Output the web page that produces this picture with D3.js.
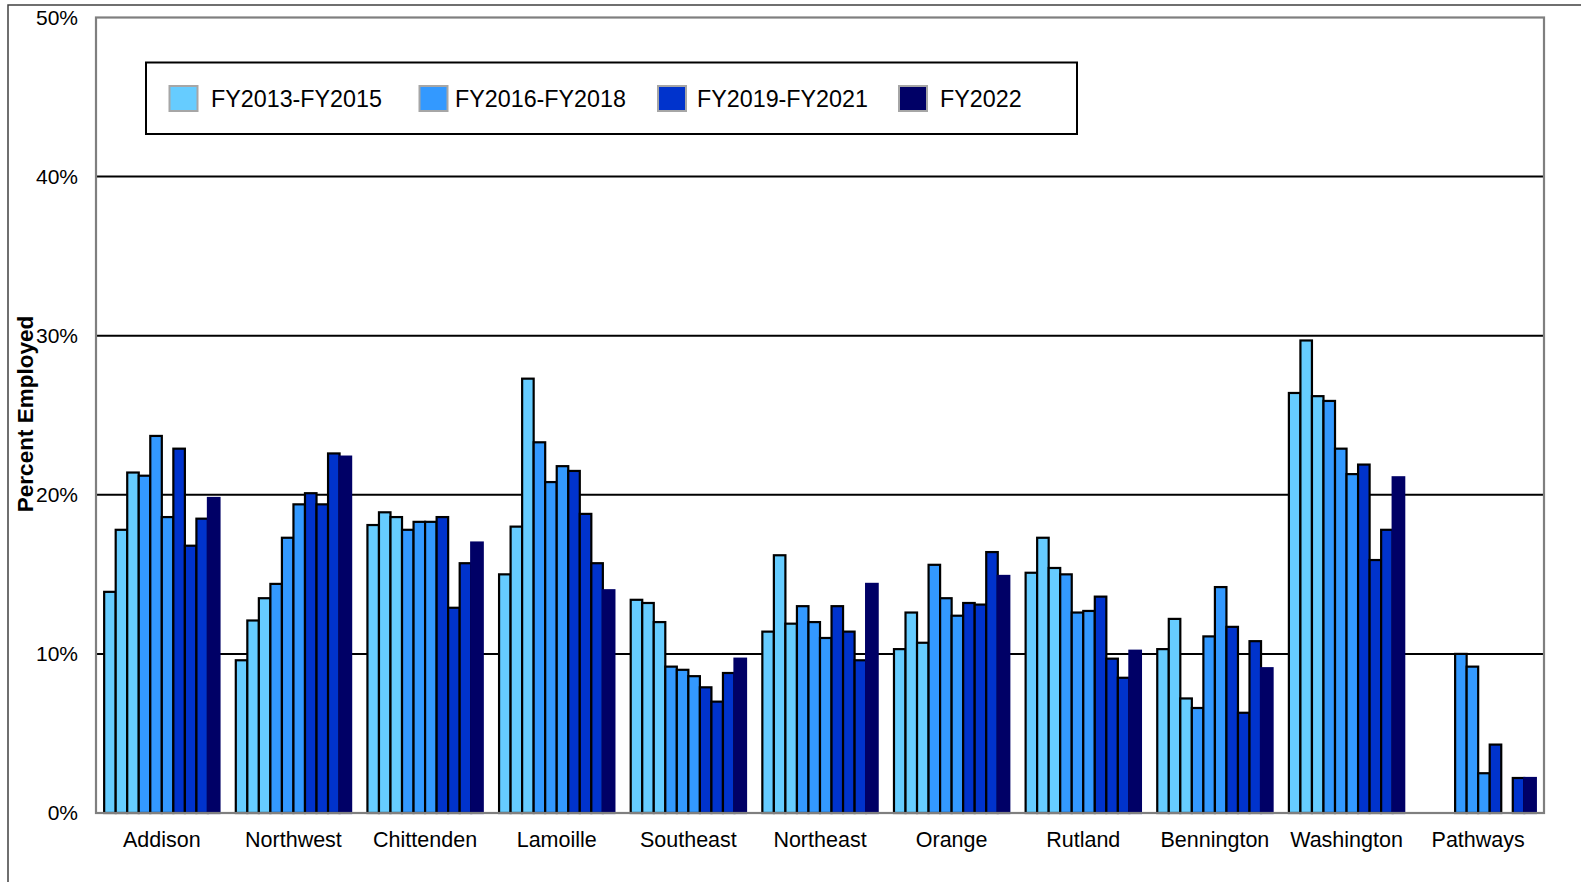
<!DOCTYPE html>
<html>
<head>
<meta charset="utf-8">
<script src="https://cdn.jsdelivr.net/npm/d3@7"></script>
<style>
  html, body { margin: 0; padding: 0; background: #fff; }
  svg { display: block; font-family: "Liberation Sans", Arial, sans-serif; }
</style>
</head>
<body>
<svg id="chart" width="1581" height="882"></svg>
<script>
// ---- Data ----
const categories = ["Addison", "Northwest", "Chittenden", "Lamoille", "Southeast", "Northeast", "Orange", "Rutland", "Bennington", "Washington", "Pathways"];
const years = ["FY2013", "FY2014", "FY2015", "FY2016", "FY2017", "FY2018", "FY2019", "FY2020", "FY2021", "FY2022"];
const legendLabels = ["FY2013-FY2015", "FY2016-FY2018", "FY2019-FY2021", "FY2022"];
const yearGroup = [0, 0, 0, 1, 1, 1, 2, 2, 2, 3];
const yTicks = [0, 10, 20, 30, 40, 50];

const fy2013 = [13.9, 9.6, 18.1, 15.0, 13.4, 11.4, 10.3, 15.1, 10.3, 26.4, null];
const fy2014 = [17.8, 12.1, 18.9, 18.0, 13.2, 16.2, 12.6, 17.3, 12.2, 29.7, null];
const fy2015 = [21.4, 13.5, 18.6, 27.3, 12.0, 11.9, 10.7, 15.4, 7.2, 26.2, null];
const fy2016 = [21.2, 14.4, 17.8, 23.3, 9.2, 13.0, 15.6, 15.0, 6.6, 25.9, 10.0];
const fy2017 = [23.7, 17.3, 18.3, 20.8, 9.0, 12.0, 13.5, 12.6, 11.1, 22.9, 9.2];
const fy2018 = [18.6, 19.4, 18.3, 21.8, 8.6, 11.0, 12.4, 12.7, 14.2, 21.3, 2.5];
const fy2019 = [22.9, 20.1, 18.6, 21.5, 7.9, 13.0, 13.2, 13.6, 11.7, 21.9, 4.3];
const fy2020 = [16.8, 19.4, 12.9, 18.8, 7.0, 11.4, 13.1, 9.7, 6.3, 15.9, null];
const fy2021 = [18.5, 22.6, 15.7, 15.7, 8.8, 9.6, 16.4, 8.5, 10.8, 17.8, 2.2];
const fy2022 = [19.8, 22.4, 17.0, 14.0, 9.7, 14.4, 14.9, 10.2, 9.1, 21.1, 2.2];
const series = [fy2013, fy2014, fy2015, fy2016, fy2017, fy2018, fy2019, fy2020, fy2021, fy2022];

// ---- Styles ----
const groupColors = ["#66CCFF", "#3399FF", "#0033CC", "#000066"];
const groupStroke = ["#000", "#000", "#000", "#000066"];

const svg = d3.select("#chart");
const plot = { left: 96, right: 1544, top: 17.5, bottom: 813 };

// Outer frame (partial, as in reference)
svg.append("path")
  .attr("d", "M8,882 L8,5 L1581,5")
  .attr("fill", "none").attr("stroke", "#404040").attr("stroke-width", 1.5);

const x0 = d3.scaleBand().domain(categories).range([plot.left, plot.right])
  .paddingInner(0.124).paddingOuter(0.062);
const x1 = d3.scaleBand().domain(years).range([0, x0.bandwidth()]).padding(0);
const y = d3.scaleLinear().domain([0, 50]).range([plot.bottom, plot.top]);

// Gridlines
svg.append("g").selectAll("line").data(yTicks.filter(t => t > 0 && t < 50)).join("line")
  .attr("x1", plot.left).attr("x2", plot.right)
  .attr("y1", d => y(d)).attr("y2", d => y(d))
  .attr("stroke", "#000").attr("stroke-width", 2);

// Bars
const rows = [];
categories.forEach((c, ci) => {
  years.forEach((yr, yi) => {
    const v = series[yi][ci];
    if (v != null) rows.push({ c, yr, yi, v });
  });
});

svg.append("g").selectAll("rect").data(rows).join("rect")
  .attr("x", d => x0(d.c) + x1(d.yr))
  .attr("y", d => y(d.v))
  .attr("width", x1.bandwidth())
  .attr("height", d => y(0) - y(d.v))
  .attr("fill", d => groupColors[yearGroup[d.yi]])
  .attr("stroke", d => groupStroke[yearGroup[d.yi]])
  .attr("stroke-width", 2.2);

// Plot frame
svg.append("rect")
  .attr("x", plot.left).attr("y", plot.top)
  .attr("width", plot.right - plot.left).attr("height", plot.bottom - plot.top)
  .attr("fill", "none").attr("stroke", "#7f7f7f").attr("stroke-width", 2.2);

// Y axis
const yAxis = d3.axisLeft(y).tickValues(yTicks).tickFormat(d => d + "%").tickSize(0).tickPadding(18);
const yg = svg.append("g").attr("transform", `translate(${plot.left},0)`).call(yAxis);
yg.select(".domain").remove();
yg.selectAll("text").attr("font-size", 21).attr("fill", "#000")
  .attr("font-family", "Liberation Sans, Arial, sans-serif");

// X axis
const xAxis = d3.axisBottom(x0).tickSize(0).tickPadding(19);
const xg = svg.append("g").attr("transform", `translate(0,${plot.bottom})`).call(xAxis);
xg.select(".domain").remove();
xg.selectAll("text").attr("font-size", 21.5).attr("fill", "#000")
  .attr("font-family", "Liberation Sans, Arial, sans-serif");

// Y title
svg.append("text")
  .attr("transform", "translate(33,414) rotate(-90)")
  .attr("text-anchor", "middle")
  .attr("font-size", 22.5).attr("font-weight", "bold").attr("fill", "#000")
  .text("Percent Employed");

// Legend
const lg = svg.append("g");
lg.append("rect").attr("x", 146).attr("y", 62.5).attr("width", 931).attr("height", 71.5)
  .attr("fill", "#fff").attr("stroke", "#000").attr("stroke-width", 2);
const legX = [169.5, 419.5, 658, 899];
const legTextX = [211, 455, 697, 940];
const items = lg.selectAll("g.item").data(legendLabels).join("g")
  .attr("class", "item");
items.append("rect").attr("x", (d, i) => legX[i]).attr("y", 86).attr("width", 28).attr("height", 25)
  .attr("fill", (d, i) => groupColors[i]).attr("stroke", "#a6a6a6").attr("stroke-width", 2);
items.append("text").attr("x", (d, i) => legTextX[i]).attr("y", 107)
  .attr("font-size", 23.3).attr("fill", "#000")
  .text(d => d);
</script>
</body>
</html>
